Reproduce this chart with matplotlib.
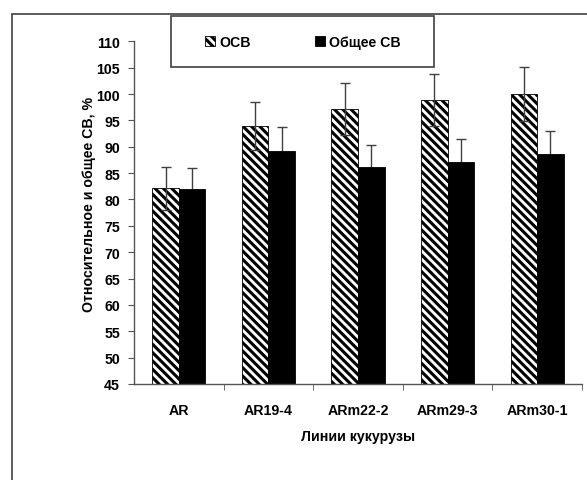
import matplotlib
matplotlib.use('Agg')
import matplotlib.pyplot as plt
import numpy as np
from matplotlib.patches import Rectangle, Patch

plt.rcParams['font.family'] = ['Liberation Sans', 'DejaVu Sans']
plt.rcParams['font.weight'] = 'bold'
plt.rcParams['hatch.linewidth'] = 2.2

# data
categories = ['AR', 'AR19-4', 'ARm22-2', 'ARm29-3', 'ARm30-1']
osv = [82.1, 93.9, 97.2, 98.9, 100.0]
osv_err = [4.1, 4.6, 4.9, 4.9, 5.1]
total = [82.0, 89.2, 86.1, 87.2, 88.6]
total_err = [4.0, 4.6, 4.2, 4.2, 4.4]

fs = 10.2
W, H = 587, 481
fig = plt.figure(figsize=(W / 100, H / 100), dpi=100)
ax = fig.add_axes([134 / W, 1 - 385 / H, (582 - 134) / W, (385 - 42.3) / H])

x = np.arange(len(categories))
bw = 0.296
ax.bar(x - bw / 2, osv, bw, color='white', edgecolor='black',
       hatch='\\\\\\\\', linewidth=0.6, zorder=2)
ax.bar(x + bw / 2, total, bw, color='black', edgecolor='black',
       linewidth=0.6, zorder=2)
ax.errorbar(x - bw / 2, osv, yerr=osv_err, fmt='none', ecolor='#404040',
            elinewidth=1, capsize=3.5, capthick=1, zorder=3)
ax.errorbar(x + bw / 2, total, yerr=total_err, fmt='none', ecolor='#404040',
            elinewidth=1, capsize=3.5, capthick=1, zorder=1)

ax.set_xlim(-0.5, len(categories) - 0.5)
ax.set_ylim(45, 110)
ax.set_yticks(np.arange(45, 111, 5))
ax.set_xticks(x)
ax.set_xticklabels(categories)
ax.set_xticks(np.arange(0.5, len(categories), 1), minor=True)
ax.tick_params(axis='x', which='major', length=0, pad=13.5, labelsize=fs)
ax.tick_params(axis='x', which='minor', length=4, direction='out', color='#555555')
ax.tick_params(axis='y', length=4, direction='out', color='#555555', labelsize=fs, pad=6)

for s in ['top', 'right']:
    ax.spines[s].set_visible(False)
for s in ['left', 'bottom']:
    ax.spines[s].set_color('#555555')
    ax.spines[s].set_linewidth(1)

ax.set_ylabel('Относительное и общее СВ, %', fontsize=fs, fontweight='bold')
ax.yaxis.set_label_coords(-0.085, 0.528)
ax.set_xlabel('Линии кукурузы', fontsize=fs, fontweight='bold', labelpad=8.5)

# outer frame, cut off at right and bottom
fig.add_artist(Rectangle((12 / W, -0.1), 1.2, 1 - 15 / H + 0.1, transform=fig.transFigure,
                         fill=False, edgecolor='#404040', linewidth=1.2))
# legend box
fig.add_artist(Rectangle((171 / W, 1 - 68 / H), (434 - 171) / W, (68 - 17) / H,
                         transform=fig.transFigure, facecolor='white',
                         edgecolor='#404040', linewidth=1.2, zorder=5))
handles = [Patch(facecolor='white', edgecolor='black', hatch='\\\\\\\\', linewidth=0.6),
           Patch(facecolor='black', edgecolor='black', linewidth=0.6)]
fig.legend(handles, ['ОСВ', 'Общее СВ'], loc='center', ncol=2,
           bbox_to_anchor=(303 / W, 1 - 43 / H), frameon=False,
           handlelength=0.7, handleheight=0.7, handletextpad=0.3,
           columnspacing=4.5, prop={'weight': 'bold', 'size': fs})

fig.savefig('out.png', dpi=100)
